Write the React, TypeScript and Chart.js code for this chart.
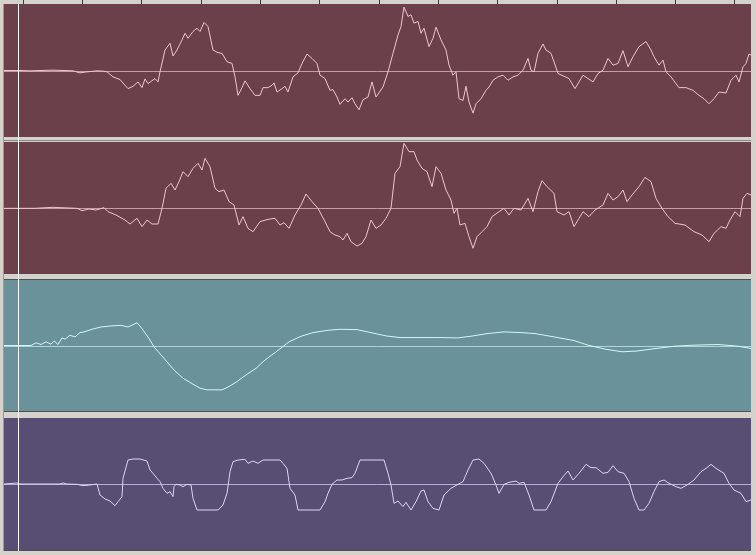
import React, { useEffect, useRef } from "react";
import { Chart, registerables } from "chart.js";

Chart.register(...registerables);

// Time positions (samples) and amplitudes
const T1 = [4, 20, 30, 53, 73, 80, 87, 97, 103, 107, 113, 120, 128, 133, 138, 142, 145, 148, 155, 158, 160, 165, 170, 173, 177, 182, 185, 188, 193, 197, 200, 204, 208, 213, 218, 222, 227, 232, 235, 238, 242, 245, 250, 255, 260, 263, 268, 272, 274, 277, 282, 285, 288, 293, 298, 302, 307, 312, 317, 320, 325, 330, 333, 337, 340, 345, 348, 352, 355, 359, 363, 368, 372, 376, 383, 388, 393, 398, 401, 404, 408, 411, 414, 418, 421, 424, 429, 433, 436, 441, 446, 449, 453, 456, 459, 463, 466, 469, 473, 476, 481, 486, 489, 493, 498, 503, 508, 513, 518, 523, 528, 531, 534, 538, 543, 546, 551, 554, 558, 564, 569, 575, 579, 583, 588, 593, 598, 603, 608, 613, 618, 623, 628, 633, 639, 646, 651, 654, 659, 663, 666, 671, 676, 679, 686, 693, 699, 704, 709, 714, 719, 726, 731, 736, 739, 743, 746, 749, 751];
const V1 = [0, 0, -1, 1, -1, -7, -4, -1, -2, -4, -19, -27, -54, -47, -34, -51, -25, -39, -24, -34, -4, 61, 81, 43, 61, 91, 111, 96, 116, 126, 116, 143, 131, 61, 53, 51, 26, 21, -19, -74, -51, -31, -54, -74, -74, -51, -51, -44, -37, -64, -54, -47, -64, -19, -7, 21, 49, 36, 21, -14, -24, -59, -57, -79, -101, -84, -94, -81, -99, -117, -87, -79, -34, -79, -49, -4, 51, 106, 131, 189, 161, 166, 141, 146, 111, 126, 71, 96, 129, 91, 61, 16, -14, -4, -84, -89, -47, -94, -127, -99, -84, -59, -49, -29, -19, -14, -29, -19, -14, 1, 36, 1, -4, 51, 79, 61, 51, 26, -9, -17, -24, -54, -34, -14, -24, -34, -9, 1, 36, 16, 21, 59, 11, 41, 71, 86, 61, 41, 16, 31, -4, -19, -39, -51, -51, -59, -74, -84, -99, -84, -64, -67, -29, -14, -34, 11, 21, 49, 46];

const T2 = [4, 34, 53, 77, 82, 89, 96, 104, 108, 116, 125, 130, 137, 142, 147, 152, 158, 162, 166, 171, 175, 179, 183, 188, 193, 198, 202, 205, 210, 215, 219, 224, 229, 234, 239, 243, 248, 253, 260, 268, 275, 280, 284, 289, 295, 301, 306, 312, 318, 325, 330, 335, 340, 343, 347, 351, 357, 362, 366, 371, 376, 381, 386, 391, 395, 400, 404, 409, 414, 417, 422, 427, 432, 436, 441, 446, 451, 454, 457, 460, 465, 469, 473, 477, 482, 487, 492, 499, 504, 509, 514, 521, 528, 533, 538, 542, 547, 554, 557, 564, 569, 574, 579, 583, 589, 595, 603, 608, 613, 618, 623, 627, 632, 639, 645, 651, 656, 662, 668, 675, 685, 694, 702, 709, 714, 721, 726, 730, 735, 740, 743, 747, 751];
const V2 = [-1, -1, 2, -1, -8, -3, -6, 1, -11, -21, -36, -48, -31, -56, -36, -48, -48, -1, 59, 74, 54, 79, 109, 94, 119, 134, 114, 149, 124, 59, 49, 54, 19, 9, -51, -26, -61, -71, -41, -34, -31, -51, -44, -61, -21, 9, 42, 19, -1, -41, -71, -81, -86, -96, -76, -101, -114, -106, -86, -36, -61, -51, -31, -1, 104, 124, 194, 169, 169, 144, 119, 109, 64, 124, 104, 54, 24, -16, -1, -51, -46, -86, -121, -86, -71, -56, -26, -11, -1, -21, -1, -6, 29, -11, 49, 82, 64, 44, -11, -21, -11, -56, -31, -11, -26, -6, 9, 44, 24, 34, 54, 19, 39, 64, 92, 79, 29, -1, -26, -46, -51, -71, -81, -101, -76, -56, -61, -36, -11, -26, 29, 44, 39];

const T3 = [4, 31, 36, 41, 46, 51, 54, 58, 62, 65, 70, 75, 80, 84, 92, 101, 111, 121, 128, 133, 137, 142, 149, 154, 164, 174, 183, 193, 200, 207, 222, 229, 236, 246, 256, 265, 277, 289, 301, 313, 328, 340, 357, 371, 386, 400, 419, 439, 458, 473, 487, 504, 521, 535, 554, 574, 588, 605, 622, 636, 656, 675, 694, 718, 738, 751];
const V3 = [0, 0, 8, 3, 11, 4, 14, 3, 23, 19, 31, 26, 39, 41, 49, 56, 59, 61, 56, 63, 69, 51, 21, -4, -39, -74, -99, -117, -129, -134, -134, -124, -111, -89, -69, -44, -17, 11, 28, 39, 46, 49, 48, 39, 29, 24, 24, 24, 23, 29, 36, 41, 39, 36, 26, 15, 1, -11, -19, -17, -9, -2, 1, 3, -2, -9];

const T4 = [4, 17, 20, 60, 63, 67, 77, 83, 90, 97, 100, 105, 110, 115, 118, 122, 123, 128, 133, 140, 147, 150, 153, 157, 160, 163, 167, 170, 173, 174, 176, 180, 183, 187, 191, 193, 197, 203, 218, 223, 227, 230, 233, 238, 245, 248, 253, 258, 263, 267, 280, 283, 287, 290, 295, 298, 307, 320, 325, 328, 332, 337, 342, 347, 352, 355, 360, 367, 380, 384, 388, 391, 394, 398, 403, 406, 411, 416, 421, 424, 428, 433, 439, 444, 451, 458, 463, 468, 473, 479, 484, 491, 496, 499, 504, 509, 516, 519, 524, 529, 534, 546, 551, 558, 563, 568, 573, 579, 586, 591, 596, 603, 608, 613, 618, 624, 629, 634, 639, 644, 649, 654, 659, 664, 669, 676, 681, 688, 694, 701, 706, 711, 716, 724, 729, 734, 741, 746, 751];
const V4 = [0, 3, 0, 0, 3, 0, -1, -5, -3, 0, -33, -45, -51, -65, -53, -38, 17, 72, 75, 75, 69, 42, 32, 17, 7, -13, -28, -23, -38, -8, -1, -3, -8, -1, -3, -43, -78, -78, -78, -63, -28, 37, 67, 72, 74, 62, 69, 62, 72, 72, 72, 62, 47, -13, -33, -78, -78, -78, -53, -28, -1, 12, 12, 17, 19, 32, 72, 72, 72, 72, 32, -3, -58, -51, -68, -55, -78, -53, -21, -18, -53, -73, -78, -33, -13, -1, 7, 42, 72, 75, 62, 32, -3, -28, -1, 5, 9, 2, 5, -33, -78, -78, -53, 2, 22, 39, 12, 32, 59, 49, 49, 32, 35, 55, 37, 32, 7, -43, -78, -78, -58, -23, 7, 12, 2, -8, -13, -1, 12, 37, 47, 59, 47, 32, 2, -18, -28, -53, -48];

const RULER_TICKS = [23.3, 82.6, 141.9, 201.2, 260.5, 319.8, 379.1, 438.4, 497.7, 557, 616.3, 675.6, 734.9];
const CURSOR_AT = 18;
const X_MIN = 4;
const X_MAX = 751;
const AMP = 198;

type PanelDef = {
  t: number[];
  v: number[];
  bg: string;
  line: string;
  mid: string;
  top: number;
  height: number;
  ruler: boolean;
};

const PANELS: PanelDef[] = [
  { t: T1, v: V1, bg: "#6b404b", line: "#ecc7ce", mid: "#c79ca6", top: 0, height: 137, ruler: true },
  { t: T2, v: V2, bg: "#6b404b", line: "#ecc7ce", mid: "#c79ca6", top: 142, height: 132, ruler: false },
  { t: T3, v: V3, bg: "#69929b", line: "#d4f6fc", mid: "#b3d3da", top: 280, height: 131, ruler: false },
  { t: T4, v: V4, bg: "#584d73", line: "#dcd6f6", mid: "#b6aed6", top: 418, height: 132, ruler: false },
];

function Panel({ def }: { def: PanelDef }) {
  const ref = useRef<HTMLCanvasElement | null>(null);
  useEffect(() => {
    if (!ref.current) return;
    const pts = def.t.map((t, i) => ({ x: t, y: def.v[i] }));
    const panelPlugin = {
      id: "panelDeco",
      beforeDatasetsDraw(chart: any) {
        const { ctx, chartArea, scales } = chart;
        ctx.save();
        ctx.fillStyle = def.bg;
        ctx.fillRect(chartArea.left, chartArea.top, chartArea.right - chartArea.left, chartArea.bottom - chartArea.top);
        const y0 = Math.round(scales.y.getPixelForValue(0)) + 0.5;
        ctx.strokeStyle = def.mid;
        ctx.lineWidth = 1;
        ctx.beginPath();
        ctx.moveTo(chartArea.left, y0);
        ctx.lineTo(chartArea.right, y0);
        ctx.stroke();
        ctx.restore();
      },
      afterDatasetsDraw(chart: any) {
        const { ctx, chartArea, scales } = chart;
        const xc = Math.round(scales.x.getPixelForValue(CURSOR_AT)) + 0.5;
        ctx.save();
        ctx.strokeStyle = "#ffffff";
        ctx.lineWidth = 1;
        ctx.beginPath();
        ctx.moveTo(xc, chartArea.top);
        ctx.lineTo(xc, chartArea.bottom);
        ctx.stroke();
        ctx.restore();
      },
    };
    const chart = new Chart(ref.current, {
      type: "line",
      data: {
        datasets: [
          {
            data: pts,
            borderColor: def.line,
            borderWidth: 1,
            pointRadius: 0,
            tension: 0,
            fill: false,
          },
        ],
      },
      options: {
        animation: false,
        responsive: false,
        maintainAspectRatio: false,
        events: [],
        layout: { padding: 0 },
        plugins: { legend: { display: false }, tooltip: { enabled: false } },
        scales: {
          x: {
            type: "linear",
            min: X_MIN,
            max: X_MAX,
            display: def.ruler,
            position: "top",
            ticks: { display: false },
            border: { display: false },
            grid: { drawOnChartArea: false, drawTicks: true, tickLength: 4, color: "#3a3a3a", lineWidth: 1 },
            afterBuildTicks: (s: any) => {
              s.ticks = RULER_TICKS.map((v) => ({ value: v }));
            },
          },
          y: { display: false, min: -AMP, max: AMP },
        },
      },
      plugins: [panelPlugin],
    } as any);
    return () => chart.destroy();
  }, [def]);
  return (
    <canvas
      ref={ref}
      width={X_MAX - X_MIN}
      height={def.height}
      style={{ position: "absolute", left: X_MIN, top: def.top, width: X_MAX - X_MIN, height: def.height, display: "block" }}
    />
  );
}

export default function App() {
  return (
    <div
      style={{
        position: "absolute",
        left: 0,
        top: 0,
        width: 756,
        height: 555,
        background: "#d5d2cb",
        overflow: "hidden",
      }}
    >
      <div style={{ position: "absolute", left: 3, top: 4, width: 1, height: 547, background: "#9a9893" }} />
      <div style={{ position: "absolute", left: 4, top: 140, width: 747, height: 1, background: "#8a8883" }} />
      <div style={{ position: "absolute", left: 4, top: 279, width: 747, height: 1, background: "#505050" }} />
      <div style={{ position: "absolute", left: 4, top: 411, width: 747, height: 1, background: "#505050" }} />
      <div style={{ position: "absolute", left: 4, top: 550, width: 747, height: 1, background: "#505050" }} />
      <div style={{ position: "absolute", left: 18, top: 4, width: 1, height: 547, background: "#ffffff" }} />
      {PANELS.map((p, i) => (
        <Panel key={i} def={p} />
      ))}
    </div>
  );
}
